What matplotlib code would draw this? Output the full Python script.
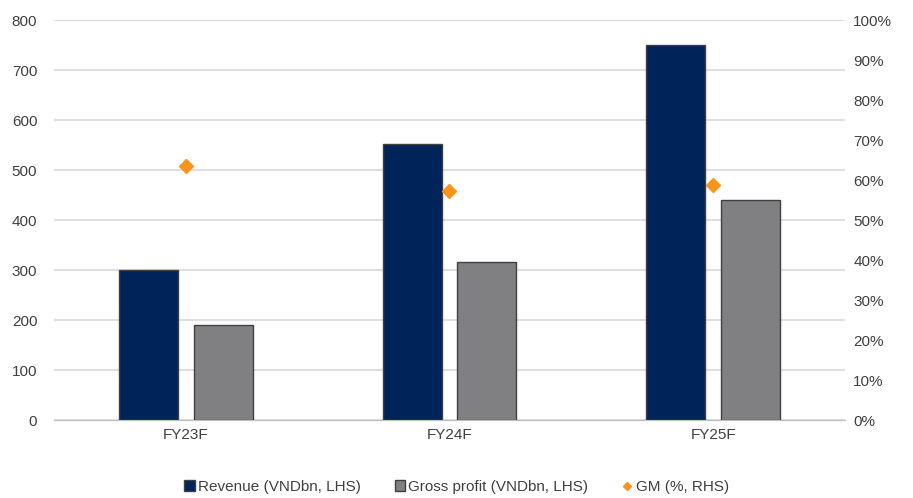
import matplotlib
matplotlib.use("Agg")
import matplotlib.pyplot as plt
import numpy as np
from matplotlib.ticker import FuncFormatter

categories = ["FY23F", "FY24F", "FY25F"]
revenue = [300, 552, 751]
gross_profit = [190, 317, 440]
gm_pct = [63.5, 57.3, 58.7]

plt.rcParams["font.family"] = ["Liberation Sans", "DejaVu Sans"]

fig = plt.figure(figsize=(9.13, 4.98), dpi=100)
ax = fig.add_axes([0.0591, 0.1566, 0.8664, 0.8032])
ax2 = ax.twinx()

x = np.arange(len(categories))
width = 0.224
off = 0.1415
b1 = ax.bar(x - off, revenue, width, color="#00245A", edgecolor="#404040", linewidth=1.0,
            label="Revenue (VNDbn, LHS)", zorder=3)
b2 = ax.bar(x + off, gross_profit, width, color="#808083", edgecolor="#404040", linewidth=1.0,
            label="Gross profit (VNDbn, LHS)", zorder=3)
ln, = ax2.plot(x, gm_pct, linestyle="none", marker="D", markersize=7, color="#F7941D",
               label="GM (%, RHS)", zorder=4)

ax.set_xlim(-0.5, 2.5)
ax.set_ylim(0, 800)
ax.set_yticks(range(0, 801, 100))
ax2.set_ylim(0, 100)
ax2.set_yticks(range(0, 101, 10))
ax2.yaxis.set_major_formatter(FuncFormatter(lambda v, p: f"{int(v)}%"))
ax.set_xticks(x)
ax.set_xticklabels(categories)

ax.grid(axis="y", color="#D9D9D9", linewidth=1.2, zorder=0)
ax.set_axisbelow(True)
for a in (ax, ax2):
    for s in ("top", "left", "right"):
        a.spines[s].set_visible(False)
    a.spines["bottom"].set_color("#BFBFBF")
    a.tick_params(length=0, labelsize=11, labelcolor="#404040")
ax.tick_params(axis="y", pad=12)
ax2.tick_params(axis="y", pad=6)
ax.tick_params(axis="x", pad=6)

fig.legend(handles=[b1, b2, ln], loc="center", bbox_to_anchor=(0.5, 0.022), ncol=3,
           frameon=False, fontsize=11, handlelength=0.7, handleheight=0.7,
           handletextpad=0.2, columnspacing=2.2, labelcolor="#404040", markerscale=0.55)

fig.savefig("out.png", dpi=100)
